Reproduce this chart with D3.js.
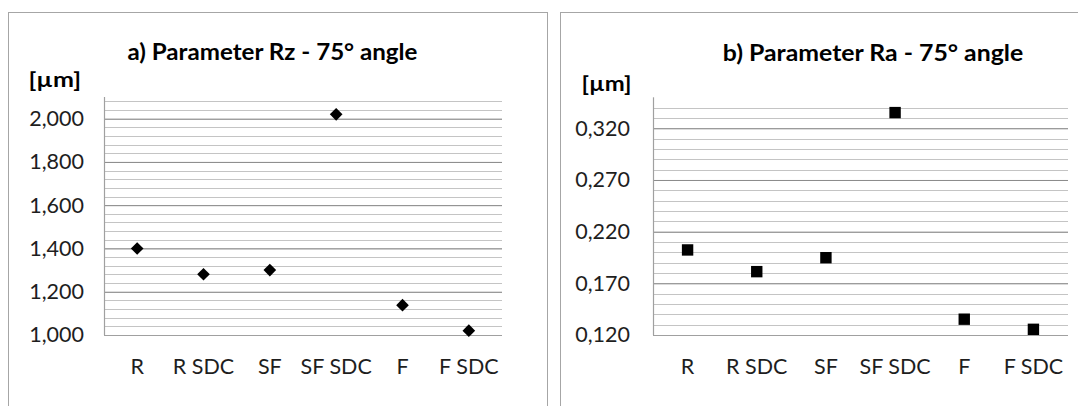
<!DOCTYPE html>
<html>
<head>
<meta charset="utf-8">
<script src="https://cdn.jsdelivr.net/npm/d3@7"></script>
<style>
  html, body { margin: 0; padding: 0; background: #ffffff; }
  svg { display: block; }
  text { font-family: Lato, "Open Sans", "DejaVu Sans", sans-serif; }
</style>
</head>
<body>
<svg id="chart" width="1078" height="406"></svg>
<script>
// ---------- data ----------
const categories = ["R", "R SDC", "SF", "SF SDC", "F", "F SDC"];

const rzValues = [1400, 1281, 1300, 2020, 1138, 1020];
const rzMajorTicks = [1000, 1200, 1400, 1600, 1800, 2000];
const rzTickLabels = ["1,000", "1,200", "1,400", "1,600", "1,800", "2,000"];
const rzDomain = [1000, 2100];
const rzMinorStep = 40;

const raValues = [0.2023, 0.1813, 0.1948, 0.3352, 0.1353, 0.1255];
const raMajorTicks = [0.12, 0.17, 0.22, 0.27, 0.32];
const raTickLabels = ["0,120", "0,170", "0,220", "0,270", "0,320"];
const raDomain = [0.12, 0.35];
const raMinorStep = 0.01;

const titles = ["a) Parameter Rz - 75° angle", "b) Parameter Ra - 75° angle"];
const unitLabel = "[µm]";

// ---------- drawing ----------
const svg = d3.select("#chart");

function panel(cfg) {
  const g = svg.append("g");
  // panel border
  g.append("rect")
    .attr("x", cfg.box[0] + 0.5).attr("y", cfg.box[1] + 0.5)
    .attr("width", cfg.box[2]).attr("height", cfg.box[3])
    .attr("fill", "#fff").attr("stroke", "#a6a6a6").attr("stroke-width", 1);

  const x = d3.scaleBand().domain(categories).range([cfg.plot[0], cfg.plot[1]]).padding(0);
  const y = d3.scaleLinear().domain(cfg.domain).range([cfg.plot[3], cfg.plot[2]]);

  // minor gridlines
  const nMinor = Math.round((cfg.domain[1] - cfg.domain[0]) / cfg.minorStep);
  const minor = d3.range(1, nMinor + 1)
    .map(i => cfg.domain[0] + i * cfg.minorStep)
    .filter(v => v < cfg.domain[1] - 1e-9);
  g.append("g").selectAll("line").data(minor).join("line")
    .attr("x1", cfg.plot[0]).attr("x2", cfg.plot[1])
    .attr("y1", d => Math.round(y(d)) + 0.5).attr("y2", d => Math.round(y(d)) + 0.5)
    .attr("stroke", "#c4c4c4").attr("stroke-width", 1);

  // major gridlines + tick labels via d3 axis
  const axis = d3.axisLeft(y)
    .tickValues(cfg.majorTicks)
    .tickFormat((d, i) => cfg.tickLabels[i])
    .tickSize(-(cfg.plot[1] - cfg.plot[0]))
    .tickPadding(cfg.plot[0] - cfg.labelRight);
  const ax = g.append("g").attr("transform", `translate(${cfg.plot[0]},0)`).call(axis);
  ax.select(".domain").remove();
  ax.selectAll(".tick line").attr("stroke", "#8a8a8a").attr("stroke-width", 1);
  ax.selectAll(".tick text")
    .attr("font-size", 21.5).attr("fill", "#1e1e1e")
    .style("font-family", "Lato, 'Open Sans', sans-serif");

  // axis lines
  g.append("line")
    .attr("x1", cfg.plot[0] + 0.5).attr("x2", cfg.plot[0] + 0.5)
    .attr("y1", y(cfg.domain[1])).attr("y2", cfg.plot[3])
    .attr("stroke", "#a0a0a0").attr("stroke-width", 1.2);
  g.append("line")
    .attr("x1", cfg.plot[0]).attr("x2", cfg.plot[1])
    .attr("y1", cfg.plot[3] + 0.5).attr("y2", cfg.plot[3] + 0.5)
    .attr("stroke", "#a0a0a0").attr("stroke-width", 1.2);

  // category labels
  g.append("g").selectAll("text").data(categories).join("text")
    .attr("x", d => x(d) + x.bandwidth() / 2)
    .attr("y", cfg.catBaseline)
    .attr("text-anchor", "middle")
    .attr("font-size", 21.5).attr("fill", "#1e1e1e")
    .text(d => d);

  // title
  g.append("text")
    .attr("x", cfg.titleX).attr("y", cfg.titleY)
    .attr("text-anchor", "middle")
    .attr("font-size", 22).attr("font-weight", "bold").attr("fill", "#000")
    .attr("textLength", cfg.titleW).attr("lengthAdjust", "spacingAndGlyphs")
    .text(cfg.title);

  // unit label
  g.append("text")
    .attr("x", cfg.unitX).attr("y", cfg.unitY)
    .attr("font-size", 21.5).attr("font-weight", "bold").attr("fill", "#000")
    .attr("textLength", cfg.unitW).attr("lengthAdjust", "spacingAndGlyphs")
    .text(unitLabel);

  // markers
  const sym = d3.symbol().type(cfg.marker).size(cfg.markerSize);
  g.append("g").selectAll("path").data(cfg.values).join("path")
    .attr("d", sym)
    .attr("transform", (d, i) => `translate(${x(categories[i]) + x.bandwidth() / 2},${y(d)})` + (cfg.rotate ? " rotate(45)" : ""))
    .attr("fill", "#000");
}

panel({
  box: [8, 12, 539, 420],
  plot: [104, 502, 97, 335],
  domain: rzDomain, minorStep: rzMinorStep,
  majorTicks: rzMajorTicks, tickLabels: rzTickLabels,
  labelRight: 84,
  values: rzValues,
  title: titles[0], titleX: 272.5, titleY: 59.5, titleW: 290,
  unitX: 28.5, unitY: 87, unitW: 52.5,
  catBaseline: 373.5,
  marker: d3.symbolSquare, markerSize: 80, rotate: true
});

panel({
  box: [560, 12, 540, 420],
  plot: [653, 1068, 97.3, 335],
  domain: raDomain, minorStep: raMinorStep,
  majorTicks: raMajorTicks, tickLabels: raTickLabels,
  labelRight: 630,
  values: raValues,
  title: titles[1], titleX: 873, titleY: 61, titleW: 300.5,
  unitX: 581.5, unitY: 90.5, unitW: 50,
  catBaseline: 373.5,
  marker: d3.symbolSquare, markerSize: 130, rotate: false
});
</script>
</body>
</html>
